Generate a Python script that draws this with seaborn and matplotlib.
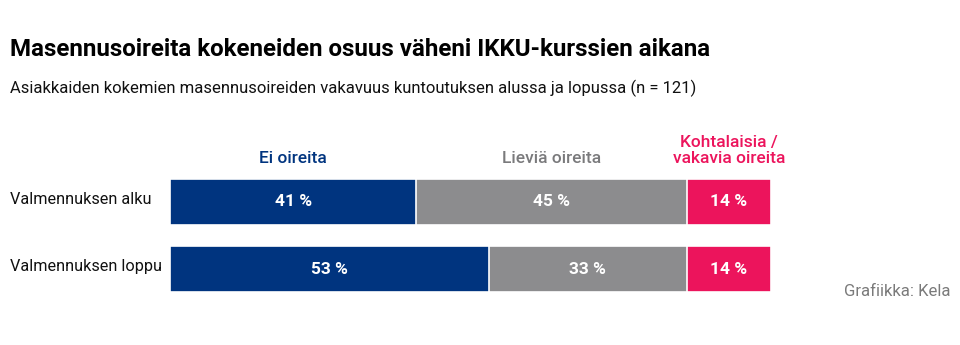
import matplotlib
matplotlib.use("Agg")
import matplotlib.pyplot as plt
from matplotlib import font_manager
import seaborn as sns
import pandas as pd
import numpy as np

# ---- data ----
rows = ["Valmennuksen alku", "Valmennuksen loppu"]
categories = ["Ei oireita", "Lieviä oireita", "Kohtalaisia /\nvakavia oireita"]
ei_oireita = [41, 53]
lievia = [45, 33]
kohtalaisia = [14, 14]
title = "Masennusoireita kokeneiden osuus väheni IKKU-kurssien aikana"
subtitle = "Asiakkaiden kokemien masennusoireiden vakavuus kuntoutuksen alussa ja lopussa (n = 121)"
source = "Grafiikka: Kela"

colors = ["#00347f", "#8c8c8e", "#ec145c"]

sns.set_theme(style="white")
plt.rcParams["font.family"] = ["Roboto", "DejaVu Sans"]

fig = plt.figure(figsize=(9.6, 3.45), dpi=100)
ax = fig.add_axes([170/960, 1 - 302.5/345, 601/960, 134/345])

series = [ei_oireita, lievia, kohtalaisia]
cum = np.cumsum(np.array(series), axis=0)
# draw from the outermost cumulative segment inward
for i in reversed(range(len(series))):
    df = pd.DataFrame({"row": rows, "val": cum[i]})
    sns.barplot(data=df, y="row", x="val", orient="h", color=colors[i],
                saturation=1, edgecolor="white", linewidth=1.2,
                width=46/67, ax=ax)

ax.set_xlim(0, 100)
ax.set_ylim(1.5, -0.5)
ax.axis("off")

# value labels
for i, s in enumerate(series):
    starts = cum[i] - np.array(s)
    for r, v in enumerate(s):
        ax.text(starts[r] + v / 2, r, f"{v} %", ha="center", va="center",
                color="white", fontsize=12.5, fontweight="bold")

# category headers above first row
for i, c in enumerate(categories):
    start = cum[i][0] - series[i][0]
    ax.text(start + series[i][0] / 2, -0.585, c, ha="center", va="baseline",
            color=colors[i] if i != 1 else "#7a7a7c", fontsize=12.5,
            fontweight="medium", linespacing=1.05)

# row labels
for r, name in enumerate(rows):
    fig.text(10/960, 1 - (200 + 67*r)/345, name, ha="left", va="center",
             fontsize=11.7, color="#111111")

fig.text(10/960, 1 - 50/345, title, ha="left", va="center",
         fontsize=17.4, fontweight="bold", color="#000000")
fig.text(10/960, 1 - 88/345, subtitle, ha="left", va="center",
         fontsize=12, color="#111111")
fig.text(950/960, 1 - 291/345, source, ha="right", va="center",
         fontsize=12, color="#7a7a7a")

fig.savefig("out.png", dpi=100)
